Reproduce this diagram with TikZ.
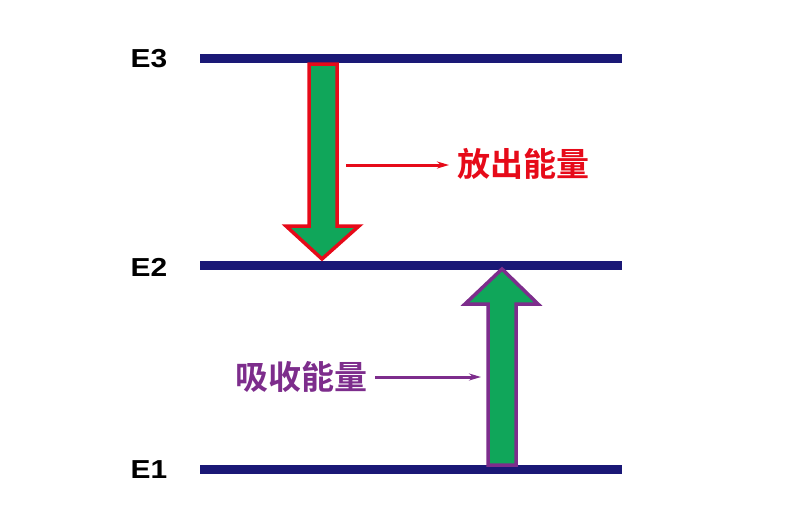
\documentclass[tikz,border=0pt]{standalone}
\usepackage{fontspec}
\setmainfont{Liberation Sans}
\newfontfamily\cjk{Noto Sans CJK SC}[BoldFont={* Bold}]
\usetikzlibrary{arrows.meta}
\definecolor{navy}{RGB}{26,24,118}
\definecolor{agreen}{RGB}{16,166,90}
\definecolor{ared}{RGB}{230,10,25}
\definecolor{apurple}{RGB}{125,45,140}
\begin{document}
\begin{tikzpicture}[x=1pt,y=-1pt,
  level/.style={draw=navy,line width=9pt},
  elabel/.style={font=\bfseries\fontsize{26}{26}\selectfont,xscale=1.15,anchor=center},
  bigarrow/.style={fill=agreen,line width=3.5pt,line join=miter},
  cjklabel/.style={font=\cjk\bfseries\fontsize{33}{33}\selectfont,inner sep=0pt},
  pointer/.style={line width=3pt,-{Stealth[length=12pt,width=7pt]}}]
\useasboundingbox (0,0) rectangle (798,531);
% levels
\coordinate (e3l) at (200,58); \coordinate (e3r) at (622,58);
\coordinate (e2l) at (200,265); \coordinate (e2r) at (622,265);
\coordinate (e1l) at (200,469); \coordinate (e1r) at (622,469);
\draw[level] (e3l) -- (e3r);
\draw[level] (e2l) -- (e2r);
\draw[level] (e1l) -- (e1r);
\node[elabel] (E3) at (149,59) {E3};
\node[elabel] (E2) at (149,267) {E2};
\node[elabel] (E1) at (149,470) {E1};
% down arrow (emission)
\draw[bigarrow,draw=ared] (309,64) -- (337,64) -- (337,226) -- (359,226) -- (322,259) -- (286,226) -- (309,226) -- cycle;
% up arrow (absorption)
\draw[bigarrow,draw=apurple] (488,465) -- (516,465) -- (516,304) -- (538,304) -- (502,269) -- (465,304) -- (488,304) -- cycle;
% labels
\node[cjklabel,text=ared,anchor=west] (emit) at (457,164) {放出能量};
\coordinate (emitstart) at (346,165);
\draw[pointer,draw=ared,fill=ared] (emitstart) -- (449,165);
\node[cjklabel,text=apurple,anchor=east] (absorb) at (368,377) {吸收能量};
\coordinate (absorbend) at (481,377);
\draw[pointer,draw=apurple,fill=apurple] (375,377) -- (absorbend);
\end{tikzpicture}
\end{document}
